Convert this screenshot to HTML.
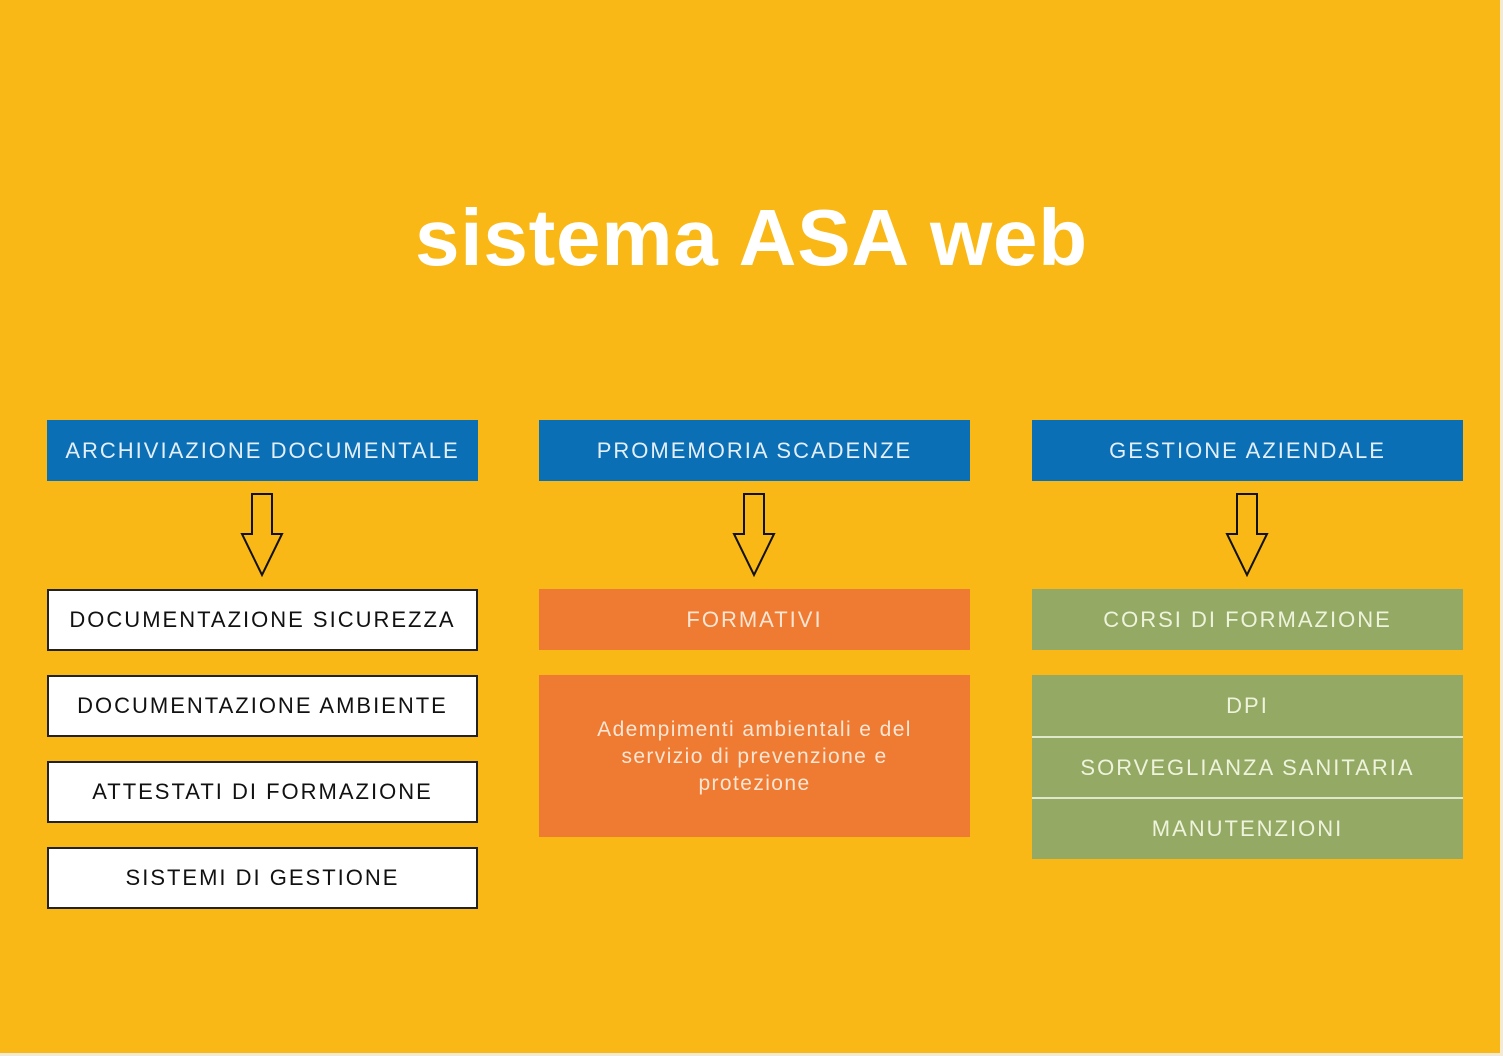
<!DOCTYPE html>
<html><head><meta charset="utf-8"><style>
body{margin:0;width:1503px;height:1056px;background:#fab816;position:relative;overflow:hidden;font-family:"Liberation Sans",sans-serif}
.b{position:absolute;width:431px;display:flex;align-items:center;justify-content:center;text-align:center;font-size:22px;letter-spacing:2px;box-sizing:border-box}
.blue{background:#0a6fb5;color:#e4effa;height:61px;top:420px}
.w{background:#fff;border:2px solid #222;color:#111;height:62px}
.o{background:#ef7a31;color:#fbe6d5}
.g{background:#94a964;color:#eef3dc}
h1{position:absolute;top:192px;left:0;width:1503px;text-align:center;margin:0;color:#fff;font-size:80px;font-weight:bold;letter-spacing:0.8px}
svg{position:absolute;left:0;top:0}
</style></head><body>
<h1>sistema ASA web</h1>
<div class="b blue" style="left:47px">ARCHIVIAZIONE DOCUMENTALE</div>
<div class="b blue" style="left:539px">PROMEMORIA SCADENZE</div>
<div class="b blue" style="left:1032px">GESTIONE AZIENDALE</div>
<svg width="1503" height="1056">
<g fill="none" stroke="#111" stroke-width="2">
<path d="M252 494h20v40h10l-20 41l-20-41h10z"/>
<path d="M744 494h20v40h10l-20 41l-20-41h10z"/>
<path d="M1237 494h20v40h10l-20 41l-20-41h10z"/>
</g>
<rect x="1500" y="0" width="3" height="1056" fill="#f3ead6"/>
<rect x="0" y="1053" width="1503" height="3" fill="#f3ead6"/>
</svg>
<div class="b w" style="left:47px;top:589px">DOCUMENTAZIONE SICUREZZA</div>
<div class="b w" style="left:47px;top:675px">DOCUMENTAZIONE AMBIENTE</div>
<div class="b w" style="left:47px;top:761px">ATTESTATI DI FORMAZIONE</div>
<div class="b w" style="left:47px;top:847px">SISTEMI DI GESTIONE</div>
<div class="b o" style="left:539px;top:589px;height:61px">FORMATIVI</div>
<div class="b o" style="left:539px;top:675px;height:162px;font-size:21px;line-height:27px;letter-spacing:1.4px">Adempimenti ambientali e del<br>servizio di prevenzione e<br>protezione</div>
<div class="b g" style="left:1032px;top:589px;height:61px">CORSI DI FORMAZIONE</div>
<div class="b g" style="left:1032px;top:675px;height:61px">DPI</div>
<div class="b g" style="left:1032px;top:738px;height:59px">SORVEGLIANZA SANITARIA</div>
<div class="b g" style="left:1032px;top:799px;height:60px">MANUTENZIONI</div>
<div style="position:absolute;left:1032px;width:431px;top:736px;height:2px;background:#dfe8c8"></div>
<div style="position:absolute;left:1032px;width:431px;top:797px;height:2px;background:#dfe8c8"></div>
</body></html>
